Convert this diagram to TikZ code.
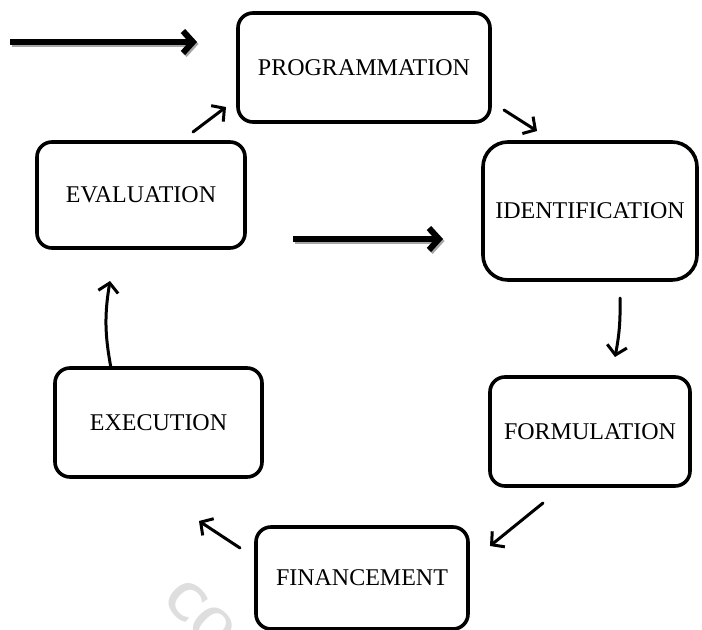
\documentclass[tikz,border=0pt]{standalone}
\usepackage{fontspec}
\setmainfont{Liberation Serif}
\usetikzlibrary{arrows.meta}
\tikzset{
  stage/.style={draw=black, line width=3.6bp, rounded corners=15bp, fill=white,
    inner sep=0pt, font=\fontsize{24bp}{28bp}\selectfont},
  flow/.style={line width=3bp, line cap=round,
    -{Straight Barb[length=9bp,width=20bp,line width=3bp]}},
  bigflow/.style={line width=6bp,
    -{Straight Barb[length=10bp,width=22bp,line width=6bp]}},
  bigshadow/.style={bigflow, draw=black!35}
}
\begin{document}
\begin{tikzpicture}[x=1bp,y=-1bp]
  \useasboundingbox (0,0) rectangle (702,630);
  \clip (0,0) rectangle (702,630);

  % faint stamp in the lower part, mostly hidden behind the boxes
  \node[text=black!13, font=\sffamily\bfseries\fontsize{52bp}{52bp}\selectfont,
        rotate=-45, anchor=base west, inner sep=0pt] (stamp) at (160,600) {CODESRIA};

  % stages of the cycle
  \node[stage, minimum width=252bp, minimum height=109bp] (prog) at (364,67.5) {PROGRAMMATION};
  \node[stage, rounded corners=25bp, minimum width=214bp, minimum height=138bp] (ident) at (590,211) {IDENTIFICATION};
  \node[stage, minimum width=208bp, minimum height=106bp] (eval) at (141,195) {EVALUATION};
  \node[stage, minimum width=200bp, minimum height=109bp] (form) at (590,431.5) {FORMULATION};
  \node[stage, minimum width=207bp, minimum height=109bp] (exec) at (158.5,422.5) {EXECUTION};
  \node[stage, minimum width=212bp, minimum height=102bp] (fin) at (362,578) {FINANCEMENT};

  % end points of the short connectors
  \coordinate (e1) at (193,132); \coordinate (p1) at (226,107);
  \coordinate (p2) at (504,110); \coordinate (i1) at (537,131);
  \coordinate (i2) at (620,298); \coordinate (f1) at (615,357);
  \coordinate (f2) at (543,503); \coordinate (n1) at (490,546);
  \coordinate (n2) at (240,548); \coordinate (x1) at (199,521);
  \coordinate (x2) at (111,368); \coordinate (v1) at (110,281);

  \draw[flow] (e1) -- (p1);
  \draw[flow] (p2) -- (i1);
  \draw[flow] (i2) to[bend left=6] (f1);
  \draw[flow] (f2) -- (n1);
  \draw[flow] (n2) -- (x1);
  \draw[flow] (x2) to[bend left=10] (v1);

  % entry arrows with their shadows
  \coordinate (in1) at (10,42);  \coordinate (in2) at (197,42);
  \coordinate (in3) at (293,239); \coordinate (in4) at (443,239);
  \begin{scope}[transform canvas={shift={(1.5bp,-2bp)}}]
    \draw[bigshadow] (in1) -- (in2);
    \draw[bigshadow] (in3) -- (in4);
  \end{scope}
  \draw[bigflow] (in1) -- (in2);
  \draw[bigflow] (in3) -- (in4);
\end{tikzpicture}
\end{document}
